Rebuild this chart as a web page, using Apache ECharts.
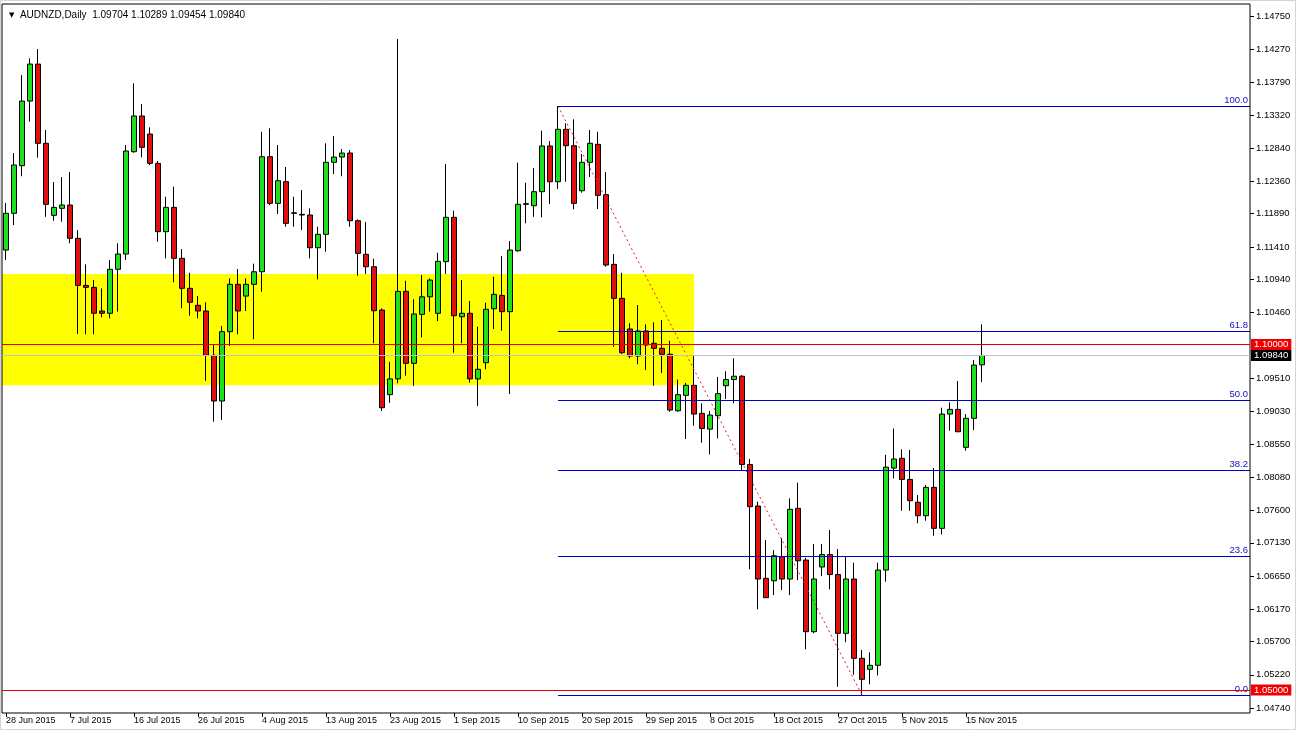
<!DOCTYPE html>
<html><head><meta charset="utf-8">
<script src="https://cdn.jsdelivr.net/npm/echarts@6/dist/echarts.min.js"></script>
<style>html,body{margin:0;padding:0;background:#fff;}#c{width:1296px;height:732px;}</style>
</head><body><div id="c"></div>
<script>
// Daily AUDNZD bars, index 0 = 28 Jun 2015 ... 122 = 17 Nov 2015 (6-day weeks)
const opens = [1.11365,1.11896,1.12585,1.13520,1.14055,1.12909,1.11867,1.11968,1.12016,1.11534,
1.10854,1.10825,1.10483,1.10450,1.11086,1.11307,1.12787,1.13304,1.13043,1.12619,
1.11630,1.11982,1.11245,1.10811,1.10565,1.10483,1.09842,1.09181,1.10184,1.10869,
1.10699,1.10869,1.11051,1.12715,1.12040,1.12353,1.11904,1.11881,1.11872,1.11398,
1.11592,1.12634,1.12710,1.12768,1.11789,1.11303,1.11123,1.10497,1.09273,1.09501,
1.10767,1.09726,1.10435,1.10689,1.10450,1.11197,1.11838,1.10400,1.10450,1.09501,
1.09735,1.10516,1.10709,1.10473,1.11355,1.12035,1.12006,1.12209,1.12870,1.12353,
1.13111,1.12874,1.12223,1.12634,1.12894,1.12166,1.11158,1.10666,1.10223,1.09832,
1.10194,1.10016,1.09943,1.09857,1.09040,1.09263,1.09408,1.09002,1.08774,1.08968,
1.09402,1.09492,1.09540,1.08262,1.07662,1.06616,1.06581,1.06929,1.06606,1.07629,
1.06880,1.05844,1.06780,1.06960,1.06671,1.05820,1.06606,1.05459,1.05300,1.05358,
1.06736,1.08211,1.08352,1.08047,1.07716,1.07522,1.07932,1.07339,1.08992,1.09060,
1.08511,1.08931,1.09704];
const closes = [1.11896,1.12595,1.13520,1.14055,1.12909,1.12026,1.11982,1.12016,1.11534,1.10854,
1.10825,1.10450,1.10450,1.11086,1.11307,1.12797,1.13304,1.12851,1.12619,1.11630,
1.11982,1.11245,1.10811,1.10609,1.10483,1.09842,1.09181,1.10184,1.10869,1.10483,
1.10869,1.11051,1.12715,1.12040,1.12368,1.11751,1.11896,1.11872,1.11398,1.11592,
1.12634,1.12710,1.12768,1.11789,1.11317,1.11123,1.10487,1.09084,1.09501,1.10767,
1.09726,1.10440,1.10689,1.10931,1.11201,1.11838,1.10415,1.10450,1.09501,1.09640,
1.10508,1.10724,1.10473,1.11365,1.12026,1.12026,1.12209,1.12870,1.12353,1.13111,
1.12874,1.12040,1.12634,1.12909,1.12156,1.11148,1.10666,1.09880,1.09832,1.10194,
1.09991,1.09943,1.09857,1.09050,1.09273,1.09408,1.08992,1.08783,1.08978,1.09288,
1.09492,1.09540,1.08262,1.07652,1.06606,1.06336,1.06943,1.06606,1.07614,1.06870,
1.05844,1.06606,1.06960,1.06671,1.05820,1.06606,1.05459,1.05155,1.05358,1.06736,
1.08225,1.08342,1.08047,1.07739,1.07522,1.07932,1.07339,1.08992,1.09060,1.08736,
1.08931,1.09701,1.09840];
const lows = [1.11220,1.11726,1.12433,1.13221,1.12701,1.11846,1.11789,1.11774,1.11462,1.10150,
1.10146,1.10146,1.10392,1.10377,1.10473,1.11220,1.12773,1.12706,1.12595,1.11485,
1.11245,1.10898,1.10522,1.10415,1.10377,1.09475,1.08881,1.08906,1.09977,1.10146,
1.10483,1.10074,1.10762,1.12016,1.11886,1.11702,1.11702,1.11654,1.11245,1.10941,
1.11340,1.12465,1.12433,1.11702,1.10993,1.11018,1.10016,1.09036,1.09156,1.09437,
1.09547,1.09398,1.10102,1.10473,1.10338,1.11018,1.09880,1.10016,1.09446,1.09108,
1.09640,1.10223,1.10198,1.09282,1.11340,1.11751,1.11846,1.11837,1.12030,1.12248,
1.12353,1.11953,1.12194,1.12421,1.11958,1.11123,1.09967,1.09861,1.09799,1.09712,
1.09629,1.09402,1.09586,1.09025,1.09025,1.08631,1.08823,1.08577,1.08409,1.08641,
1.09210,1.09147,1.08168,1.06747,1.06167,1.06336,1.06374,1.06447,1.06374,1.06591,
1.05589,1.05820,1.06649,1.06457,1.05048,1.05692,1.05221,1.04928,1.05083,1.05211,
1.06567,1.08061,1.07594,1.07594,1.07412,1.07449,1.07231,1.07251,1.08751,1.08736,
1.08462,1.08761,1.09454];
const highs = [1.12045,1.12768,1.13896,1.14138,1.14272,1.13101,1.12349,1.12421,1.12494,1.11654,
1.11158,1.10931,1.10811,1.11220,1.11462,1.12884,1.13776,1.13477,1.13140,1.12653,
1.12137,1.12281,1.11379,1.11036,1.10699,1.10609,1.09991,1.10266,1.10955,1.11090,
1.10955,1.11168,1.13076,1.13126,1.12884,1.12566,1.12137,1.12233,1.11968,1.11702,
1.12909,1.13014,1.12826,1.12812,1.11809,1.11770,1.11239,1.10522,1.09748,1.14417,
1.10921,1.10652,1.11003,1.10955,1.11326,1.12609,1.11933,1.10931,1.10627,1.10256,
1.10603,1.10979,1.11278,1.11495,1.12628,1.12339,1.12551,1.13091,1.12942,1.13448,
1.13198,1.13256,1.12754,1.13101,1.13076,1.12494,1.11307,1.11036,1.10305,1.10570,
1.10290,1.10319,1.10353,1.10053,1.09492,1.09441,1.09847,1.09147,1.09036,1.09530,
1.09611,1.09799,1.09555,1.08342,1.07724,1.07171,1.07025,1.07196,1.07773,1.07999,
1.06914,1.07113,1.07113,1.07315,1.07040,1.06929,1.06841,1.05579,1.05545,1.06841,
1.08403,1.08783,1.08482,1.08472,1.07821,1.07966,1.08211,1.09084,1.09162,1.09470,
1.08992,1.09773,1.10289];

const xTickBars = [0,8,16,24,32,40,48,56,64,72,80,88,96,104,112,120];
const xTickLabels = ['28 Jun 2015','7 Jul 2015','16 Jul 2015','26 Jul 2015','4 Aug 2015','13 Aug 2015',
  '23 Aug 2015','1 Sep 2015','10 Sep 2015','20 Sep 2015','29 Sep 2015','8 Oct 2015','18 Oct 2015',
  '27 Oct 2015','5 Nov 2015','15 Nov 2015'];
const yTickValues = [1.04740,1.05220,1.05700,1.06170,1.06650,1.07130,1.07600,1.08080,1.08550,1.09030,
  1.09510,1.10460,1.10940,1.11410,1.11890,1.12360,1.12840,1.13320,1.13790,1.14270,1.14750];

const fibLevels = ['100.0','61.8','50.0','38.2','23.6','0.0'];
const fibPrices = [1.13448,1.10193,1.09188,1.08183,1.06939,1.04928];
const fibStartBar = 69, fibEndBar = 107;
const zoneTop = 1.11020, zoneBottom = 1.09410, zoneEndBar = 86;
const redLevels = [1.10000, 1.05000];
const lastPrice = 1.09840;

const xMin = -0.5, xMax = 155.5, yMin = 1.04668, yMax = 1.14924;
const FONT = 'Liberation Sans, Arial, sans-serif';
const FIB_BLUE = '#0000c8';
const n = opens.length - 1;

const candles = opens.map((o, i) => [i, o, closes[i], lows[i], highs[i]]);

const fibLines = fibPrices.map((p, k) => [
  {xAxis: fibStartBar, yAxis: p, label: {formatter: fibLevels[k]},
    lineStyle: {color: FIB_BLUE, width: 1, type: 'solid', opacity: 1}},
  {xAxis: xMax, yAxis: p, lineStyle: {color: FIB_BLUE}}
]);

const priceLabel = {position: 'end', distance: 1, fontSize: 9.5, fontFamily: FONT, color: '#fff',
  padding: [1, 3, 0, 3]};

const chart = echarts.init(document.getElementById('c'), null, {renderer: 'canvas'});
chart.setOption({
  animation: false,
  backgroundColor: '#ffffff',
  title: {
    text: '{t|▼}  AUDNZD,Daily  ' + [opens[n], highs[n], lows[n], closes[n]].map(v => v.toFixed(5)).join(' '),
    left: 4, top: 5,
    textStyle: {fontSize: 10, fontWeight: 'normal', color: '#000', fontFamily: FONT,
      rich: {t: {fontSize: 7, color: '#000', fontFamily: 'DejaVu Sans'}}}
  },
  graphic: [{type: 'rect', shape: {x: 0.5, y: 0.5, width: 1295, height: 729}, silent: true, z: 0,
    style: {fill: null, stroke: '#d4d4d4', lineWidth: 1}}],
  grid: {left: 2, top: 4, width: 1248, height: 709, show: true, borderColor: '#000', borderWidth: 1, z: 6,
    backgroundColor: 'transparent'},
  xAxis: {
    type: 'value', min: xMin, max: xMax, position: 'bottom',
    axisLine: {show: false, onZero: false}, splitLine: {show: false},
    axisTick: {show: true, customValues: xTickBars, length: 4, lineStyle: {color: '#000'}},
    axisLabel: {customValues: xTickBars, formatter: v => xTickLabels[xTickBars.indexOf(v)] || '',
      align: 'left', fontSize: 9, color: '#000', margin: 3, fontFamily: FONT}
  },
  yAxis: {
    type: 'value', position: 'right', min: yMin, max: yMax, scale: true,
    axisLine: {show: false, onZero: false}, splitLine: {show: false},
    axisTick: {show: true, customValues: yTickValues, length: 4, lineStyle: {color: '#000'}},
    axisLabel: {customValues: yTickValues, formatter: v => v.toFixed(5), fontSize: 9.5, color: '#000',
      margin: 6, fontFamily: FONT}
  },
  series: [
    {
      type: 'line', data: [], silent: true, z: 0,
      markArea: {silent: true, z: 1, itemStyle: {color: '#ffff00'},
        data: [[{yAxis: zoneTop}, {xAxis: zoneEndBar, yAxis: zoneBottom}]]}
    },
    {
      type: 'candlestick', z: 2,
      dimensions: ['bar', 'open', 'close', 'lowest', 'highest'],
      encode: {x: 'bar', y: ['open', 'close', 'lowest', 'highest']},
      data: candles,
      barWidth: 5,
      itemStyle: {color: '#1fe01f', color0: '#e01010', borderColor: '#000', borderColor0: '#000', borderWidth: 1}
    },
    {
      type: 'line', z: 4, silent: true, symbol: 'none',
      data: [[fibStartBar, fibPrices[0]], [fibEndBar, fibPrices[5]]],
      lineStyle: {color: '#e02020', width: 1, type: [2, 3]}
    },
    {
      type: 'line', data: [], silent: true,
      markLine: {
        silent: true, z: 5, symbol: ['none', 'none'], animation: false,
        lineStyle: {color: FIB_BLUE, width: 1, type: 'solid'},
        emphasis: {disabled: true},
        label: {position: 'insideEndTop', color: '#1010c0', fontSize: 9.5, fontFamily: FONT, distance: [2, 1]},
        data: fibLines
      }
    },
    {
      type: 'line', data: [], silent: true,
      markLine: {
        silent: true, z: 6, symbol: ['none', 'none'], animation: false,
        lineStyle: {color: '#c0c0c0', width: 1, type: 'solid'},
        label: Object.assign({}, priceLabel, {backgroundColor: '#000', formatter: lastPrice.toFixed(5)}),
        data: [[{xAxis: xMin, yAxis: lastPrice}, {xAxis: xMax, yAxis: lastPrice}]]
      }
    },
    {
      type: 'line', data: [], silent: true,
      markLine: {
        silent: true, z: 7, symbol: ['none', 'none'], animation: false,
        lineStyle: {color: '#e00000', width: 1, type: 'solid'},
        label: Object.assign({}, priceLabel, {backgroundColor: '#f00000', formatter: p => p.value.toFixed(5)}),
        data: redLevels.map(v => ({yAxis: v}))
      }
    }
  ]
});
</script></body></html>
